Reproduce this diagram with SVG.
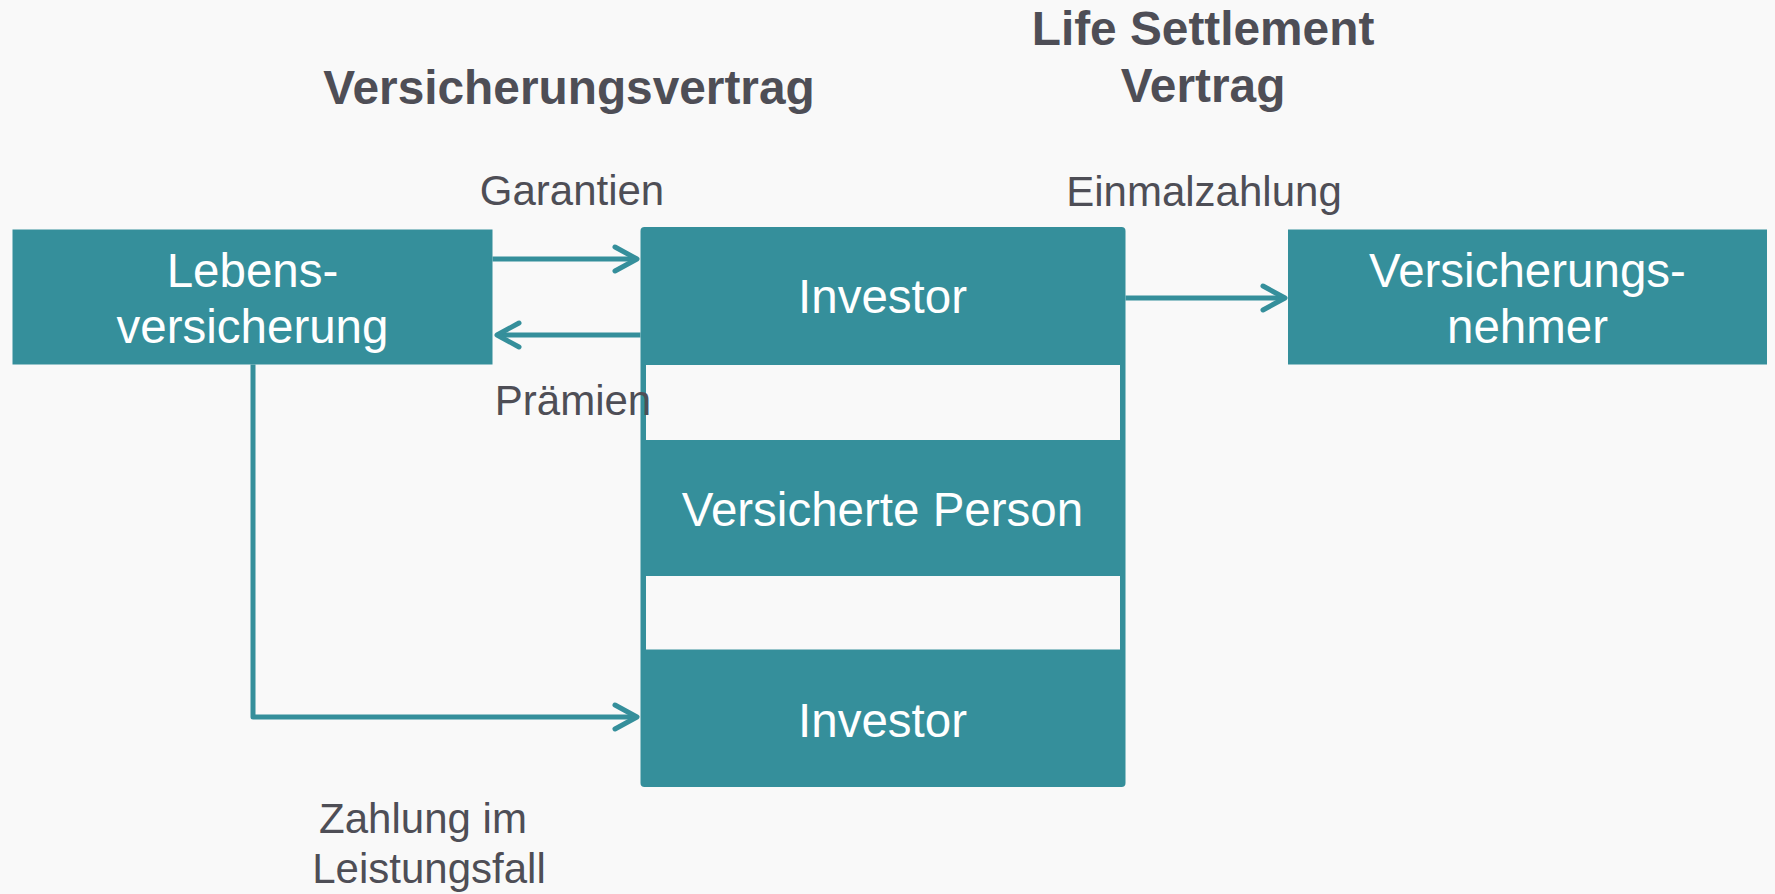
<svg xmlns="http://www.w3.org/2000/svg" width="1775" height="894" viewBox="0 0 1775 894">
<defs>
<style>
.node{fill:#358f9b}
.strip{fill:#f9f9f9}
.nt{font-family:"Liberation Sans",Arial,sans-serif;font-size:47.5px;fill:#ffffff;text-anchor:middle}
.lbl{font-family:"Liberation Sans",Arial,sans-serif;font-size:42px;fill:#4e4e56;text-anchor:middle}
.ttl{font-family:"Liberation Sans",Arial,sans-serif;font-size:47.8px;font-weight:bold;fill:#4e4e56;text-anchor:middle}
.con{fill:none;stroke:#358f9b;stroke-width:5;stroke-linejoin:round}
</style>
<marker id="arr" markerUnits="userSpaceOnUse" viewBox="-30 -20 40 40" refX="0" refY="0" markerWidth="40" markerHeight="40" orient="auto">
<path d="M-22,-12 L0,0 L-22,12" fill="none" stroke="#358f9b" stroke-width="5" stroke-linecap="round" stroke-linejoin="round"/>
</marker>
</defs>
<rect width="1775" height="894" fill="#f9f9f9"/>
<g id="titles">
<text class="ttl" x="569" y="104">Versicherungsvertrag</text>
<text class="ttl" x="1203" y="45">Life Settlement</text>
<text class="ttl" x="1203" y="102">Vertrag</text>
</g>
<g id="node-lebensversicherung">
<rect class="node" x="12.5" y="229.5" width="480" height="135"/>
<text class="nt" x="252.5" y="287">Lebens-</text>
<text class="nt" x="252.5" y="343">versicherung</text>
</g>
<g id="node-center">
<rect class="node" x="640.5" y="227" width="485" height="560" rx="4"/>
<rect class="strip" x="646" y="365" width="474" height="75"/>
<rect class="strip" x="646" y="576" width="474" height="73.5"/>
</g>
<g id="node-investor-top">
<text class="nt" x="882.5" y="313">Investor</text>
</g>
<g id="node-versicherte-person">
<text class="nt" x="882.5" y="526">Versicherte Person</text>
</g>
<g id="node-investor-bottom">
<text class="nt" x="882.5" y="737">Investor</text>
</g>
<g id="node-versicherungsnehmer">
<rect class="node" x="1288" y="229.5" width="479" height="135"/>
<text class="nt" x="1527.5" y="287">Versicherungs-</text>
<text class="nt" x="1527.5" y="343">nehmer</text>
</g>
<g id="connectors">
<path class="con" d="M492.5,259 L637,259" marker-end="url(#arr)"/>
<path class="con" d="M640.5,335 L497,335" marker-end="url(#arr)"/>
<path class="con" d="M1125.5,298 L1285,298" marker-end="url(#arr)"/>
<path class="con" d="M253,364.5 L253,717 L637,717" marker-end="url(#arr)"/>
</g>
<g id="labels">
<text class="lbl" x="572" y="205">Garantien</text>
<text class="lbl" x="573" y="415">Prämien</text>
<text class="lbl" x="1204" y="206">Einmalzahlung</text>
<text class="lbl" x="423" y="833">Zahlung im</text>
<text class="lbl" x="429" y="883">Leistungsfall</text>
</g>
</svg>
